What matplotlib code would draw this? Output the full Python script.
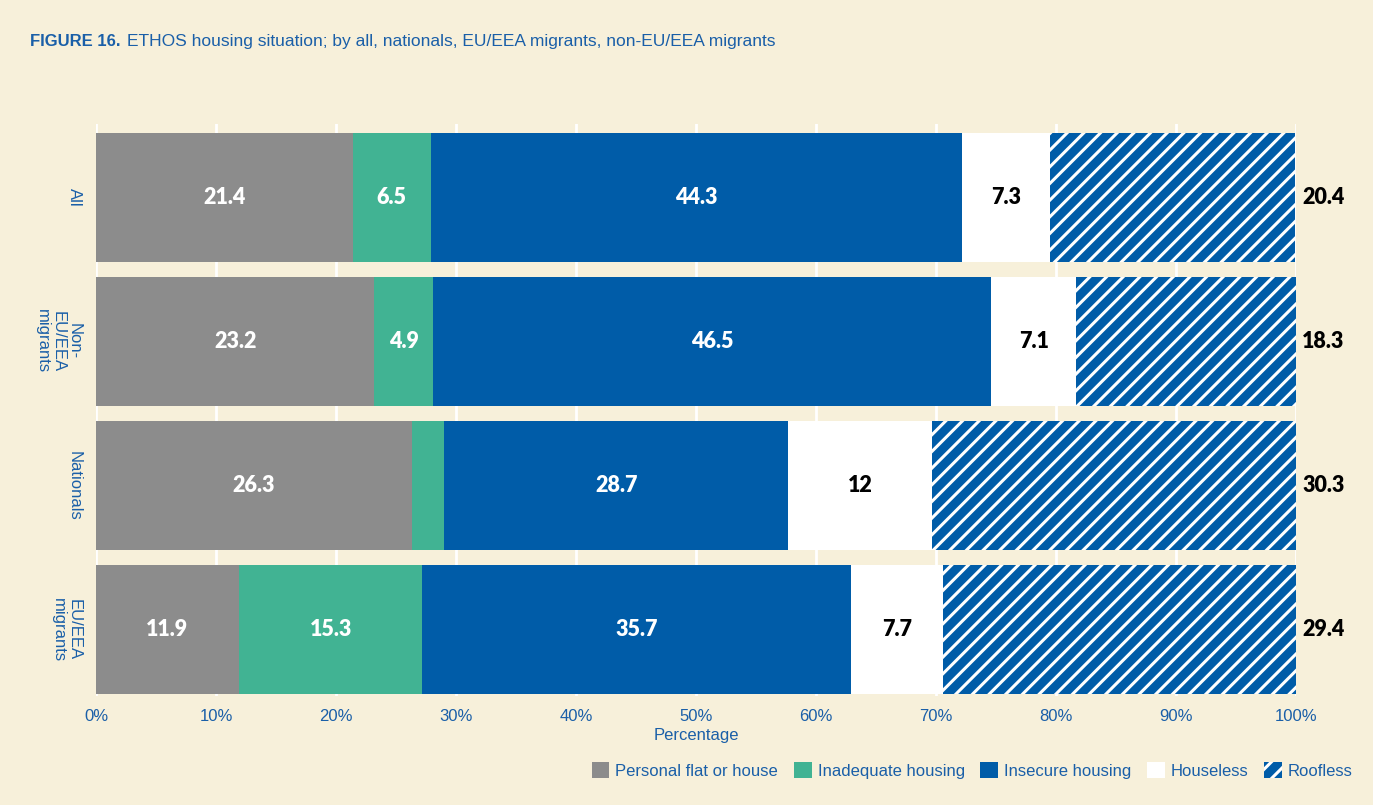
import matplotlib.pyplot as plt
import numpy as np
from matplotlib.patches import Patch

groups = ["All", "Non-\nEU/EEA\nmigrants", "Nationals", "EU/EEA\nmigrants"]
categories = ["Personal flat or house", "Inadequate housing",
              "Insecure housing", "Houseless", "Roofless"]
personal = [21.4, 23.2, 26.3, 11.9]
inadequate = [6.5, 4.9, 2.7, 15.3]
insecure = [44.3, 46.5, 28.7, 35.7]
houseless = [7.3, 7.1, 12, 7.7]
roofless = [20.4, 18.3, 30.3, 29.4]
x_ticks = [0, 10, 20, 30, 40, 50, 60, 70, 80, 90, 100]

BG = "#f7f0da"
BLUE_TXT = "#1a5fa8"
colors = ["#8c8c8c", "#41b393", "#005ca8", "#ffffff", "#005ca8"]

plt.rcParams["font.family"] = ["Liberation Sans", "DejaVu Sans"]
plt.rcParams["hatch.linewidth"] = 2.2

fig = plt.figure(figsize=(13.73, 8.05), dpi=100, facecolor=BG)
ax = fig.add_axes([0.0699, 0.1354, 0.8741, 0.7106])
ax.set_facecolor(BG)

series = [personal, inadequate, insecure, houseless, roofless]
y = np.arange(len(groups))
left = np.zeros(len(groups))
for i, vals in enumerate(series):
    vals = np.array(vals, dtype=float)
    if i == 4:
        ax.barh(y, vals, left=left, height=0.895, color=colors[i],
                edgecolor="white", linewidth=0, hatch="//", zorder=3)
    else:
        ax.barh(y, vals, left=left, height=0.895, color=colors[i],
                linewidth=0, zorder=3)
    for j, v in enumerate(vals):
        if i == 4:
            ax.text(100.5, y[j], f"{v:g}", ha="left", va="center",
                    fontsize=15.5, fontweight="heavy", family="Lato",
                    color="black", zorder=4)
        elif v >= 4:
            ax.text(left[j] + v / 2, y[j], f"{v:g}", ha="center",
                    va="center", fontsize=15.5, fontweight="heavy",
                    family="Lato",
                    color="black" if i == 3 else "white", zorder=4)
    left += vals

ax.set_xlim(0, 100)
ax.set_ylim(3.46, -0.51)
ax.set_xticks(x_ticks)
ax.set_xticklabels([f"{t}%" for t in x_ticks], color=BLUE_TXT, fontsize=12)
ax.set_yticks(y)
ax.set_yticklabels(groups, rotation=270, va="center", ha="right",
                   multialignment="center", color=BLUE_TXT, fontsize=12,
                   linespacing=1.1)
ax.tick_params(axis="y", length=0, pad=10)
ax.tick_params(axis="x", length=0, pad=9)
ax.xaxis.grid(True, color="white", linewidth=2, zorder=0)
ax.set_axisbelow(True)
for s in ax.spines.values():
    s.set_visible(False)
ax.set_xlabel("Percentage", color=BLUE_TXT, fontsize=12, labelpad=3)

fig.text(0.0218, 0.948, "FIGURE 16.", color=BLUE_TXT, fontsize=12,
         fontweight="bold", ha="left", va="center")
fig.text(0.0925, 0.948,
         "ETHOS housing situation; by all, nationals, EU/EEA migrants, "
         "non-EU/EEA migrants",
         color=BLUE_TXT, fontsize=12.5, ha="left", va="center")

handles = [Patch(facecolor=colors[k], edgecolor="white" if k == 4 else colors[k],
                 linewidth=0, hatch="//" if k == 4 else None)
           for k in range(5)]
fig.legend(handles, categories, loc="center right",
           bbox_to_anchor=(0.996, 0.043), ncol=5, frameon=False,
           fontsize=12, labelcolor=BLUE_TXT, handlelength=1.05,
           handleheight=1.05, handletextpad=0.36, columnspacing=0.95)

fig.savefig("out.png", dpi=100, facecolor=BG)
